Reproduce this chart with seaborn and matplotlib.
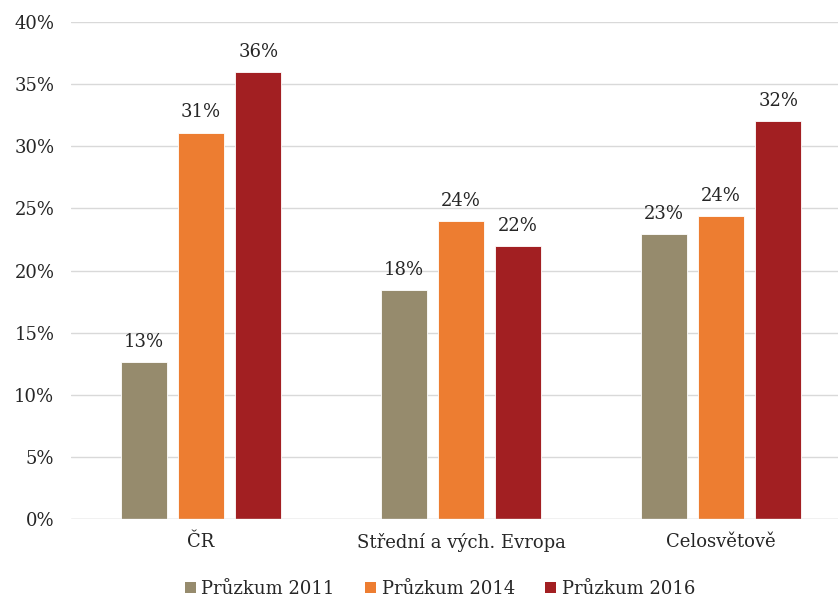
import matplotlib
matplotlib.use("Agg")
import matplotlib.pyplot as plt
import seaborn as sns
import pandas as pd
from matplotlib.ticker import FuncFormatter, MultipleLocator
from matplotlib.patches import Patch

categories = ["ČR", "Střední a vých. Evropa", "Celosvětově"]
series = ["Průzkum 2011", "Průzkum 2014", "Průzkum 2016"]
values_2011 = [12.6, 18.4, 22.9]
values_2014 = [31.1, 24.0, 24.4]
values_2016 = [36.0, 22.0, 32.0]
colors = ["#968B6D", "#ED7D31", "#A21F22"]

df = pd.DataFrame({
    "kategorie": categories * 3,
    "pruzkum": [series[0]] * 3 + [series[1]] * 3 + [series[2]] * 3,
    "hodnota": values_2011 + values_2014 + values_2016,
})

sns.set_theme(style="white")
plt.rcParams["font.family"] = ["DejaVu Serif"]

fig = plt.figure(figsize=(8.38, 6.0), dpi=100)
ax = fig.add_axes([71 / 838, 1 - 519 / 600, 780 / 838, 497 / 600])

sns.barplot(data=df, x="kategorie", y="hodnota", hue="pruzkum",
            palette=colors, saturation=1, width=0.66, gap=0.2, ax=ax,
            edgecolor="white", linewidth=0.6, legend=False, errorbar=None)

for cont in ax.containers:
    ax.bar_label(cont, labels=[f"{v:.0f}%" for v in cont.datavalues],
                 padding=8, fontsize=13, color="#262626")

ax.set_ylim(0, 40)
ax.set_xlim(-0.5, 2.5)
ax.yaxis.set_major_locator(MultipleLocator(5))
ax.yaxis.set_major_formatter(FuncFormatter(lambda v, _: f"{v:.0f}%"))
ax.grid(axis="y", color="#D9D9D9", linewidth=1)
ax.set_axisbelow(True)
for s in ax.spines.values():
    s.set_visible(False)
ax.axhline(0, color="#D9D9D9", linewidth=1, zorder=3)
ax.tick_params(axis="both", length=0, labelsize=13, colors="#262626")
ax.tick_params(axis="y", pad=12)
ax.tick_params(axis="x", pad=10)
ax.set_xlabel("")
ax.set_ylabel("")

handles = [Patch(facecolor=c, edgecolor="none") for c in colors]
fig.legend(handles, series, loc="center", bbox_to_anchor=(440 / 838, 1 - 589 / 600),
           ncol=3, frameon=False, fontsize=13, handlelength=0.6, handleheight=0.6,
           handletextpad=0.3, columnspacing=1.7, labelcolor="#262626")

fig.savefig("out.png", dpi=100)
